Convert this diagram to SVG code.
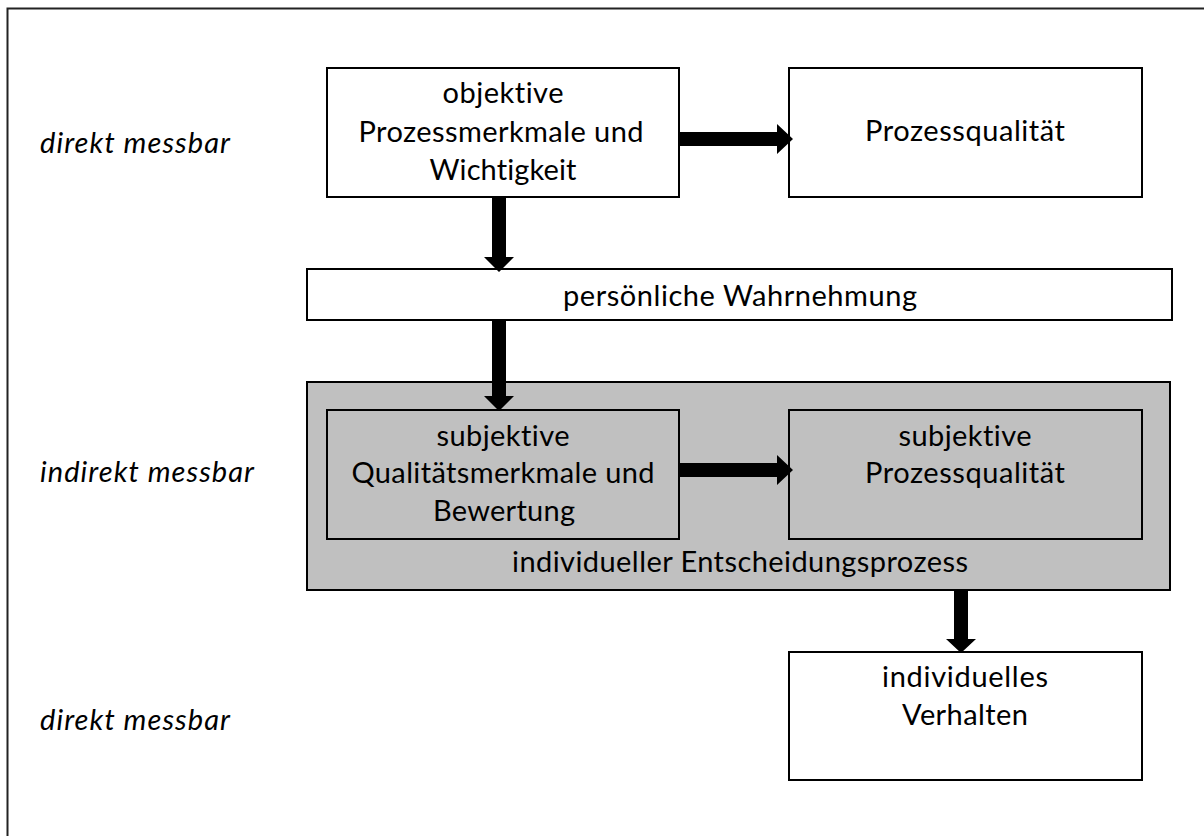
<svg xmlns="http://www.w3.org/2000/svg" width="1204" height="836" viewBox="0 0 1204 836">
  <defs>
    <style>
      .box { fill: #ffffff; stroke: #000000; stroke-width: 2; }
      .gray { fill: #c0c0c0; stroke: #000000; stroke-width: 2; }
      .t { font-family: Lato, "Open Sans", "Liberation Sans", sans-serif; font-size: 29px; fill: #000000; text-anchor: middle; font-variant-ligatures: none; }
      .side { font-family: Lato, "Open Sans", "Liberation Sans", sans-serif; font-size: 29px; font-style: italic; fill: #000000; font-variant-ligatures: none; }
      .arrow { fill: #000000; }
    </style>
  </defs>

  <rect width="1204" height="836" fill="#ffffff"/>
  <!-- outer frame: only left and top edges fall inside the canvas -->
  <path d="M7.5,836 V8.5 H1204" fill="none" stroke="#222222" stroke-width="2"/>

  <!-- level labels -->
  <g id="labels">
    <text class="side" x="40" y="153" textLength="190" lengthAdjust="spacing">direkt messbar</text>
    <text class="side" x="40" y="482" textLength="214" lengthAdjust="spacing">indirekt messbar</text>
    <text class="side" x="40" y="730" textLength="190" lengthAdjust="spacing">direkt messbar</text>
  </g>

  <g id="entscheidungsprozess">
    <rect class="gray" x="307" y="382" width="863" height="208"/>
    <text class="t" x="740" y="572" textLength="456" lengthAdjust="spacing">individueller Entscheidungsprozess</text>
  </g>

  <g id="objektive-merkmale">
    <rect class="box" x="327" y="68" width="352" height="129"/>
    <text class="t" x="503" y="103" textLength="121" lengthAdjust="spacing">objektive</text>
    <text class="t" x="501" y="142" textLength="285" lengthAdjust="spacing">Prozessmerkmale und</text>
    <text class="t" x="503" y="180" textLength="147" lengthAdjust="spacing">Wichtigkeit</text>
  </g>

  <g id="prozessqualitaet">
    <rect class="box" x="789" y="68" width="353" height="129"/>
    <text class="t" x="965" y="141" textLength="200" lengthAdjust="spacing">Prozessqualität</text>
  </g>

  <g id="wahrnehmung">
    <rect class="box" x="307" y="269" width="865" height="51"/>
    <text class="t" x="740" y="306" textLength="354" lengthAdjust="spacing">persönliche Wahrnehmung</text>
  </g>

  <g id="subjektive-merkmale">
    <rect class="gray" x="327" y="410" width="352" height="129"/>
    <text class="t" x="503" y="446" textLength="133" lengthAdjust="spacing">subjektive</text>
    <text class="t" x="503" y="483" textLength="303" lengthAdjust="spacing">Qualitätsmerkmale und</text>
    <text class="t" x="504" y="521" textLength="142" lengthAdjust="spacing">Bewertung</text>
  </g>

  <g id="subjektive-qualitaet">
    <rect class="gray" x="789" y="410" width="353" height="129"/>
    <text class="t" x="965" y="446" textLength="133" lengthAdjust="spacing">subjektive</text>
    <text class="t" x="965" y="483" textLength="200" lengthAdjust="spacing">Prozessqualität</text>
  </g>

  <g id="verhalten">
    <rect class="box" x="789" y="652" width="353" height="128"/>
    <text class="t" x="965" y="687" textLength="166" lengthAdjust="spacing">individuelles</text>
    <text class="t" x="965" y="725" textLength="126" lengthAdjust="spacing">Verhalten</text>
  </g>

  <!-- block arrows -->
  <g id="connectors">
    <polygon class="arrow" points="679,132 777,132 777,124 793,139 777,154 777,146 679,146"/>
    <polygon class="arrow" points="679,463 777,463 777,455 793,470 777,485 777,477 679,477"/>
    <polygon class="arrow" points="492,197 506,197 506,257 514,257 499,272 484,257 492,257"/>
    <polygon class="arrow" points="492,320 506,320 506,396 514,396 499,411 484,396 492,396"/>
    <polygon class="arrow" points="954,590 968,590 968,639 976,639 961,653 946,639 954,639"/>
  </g>
</svg>
